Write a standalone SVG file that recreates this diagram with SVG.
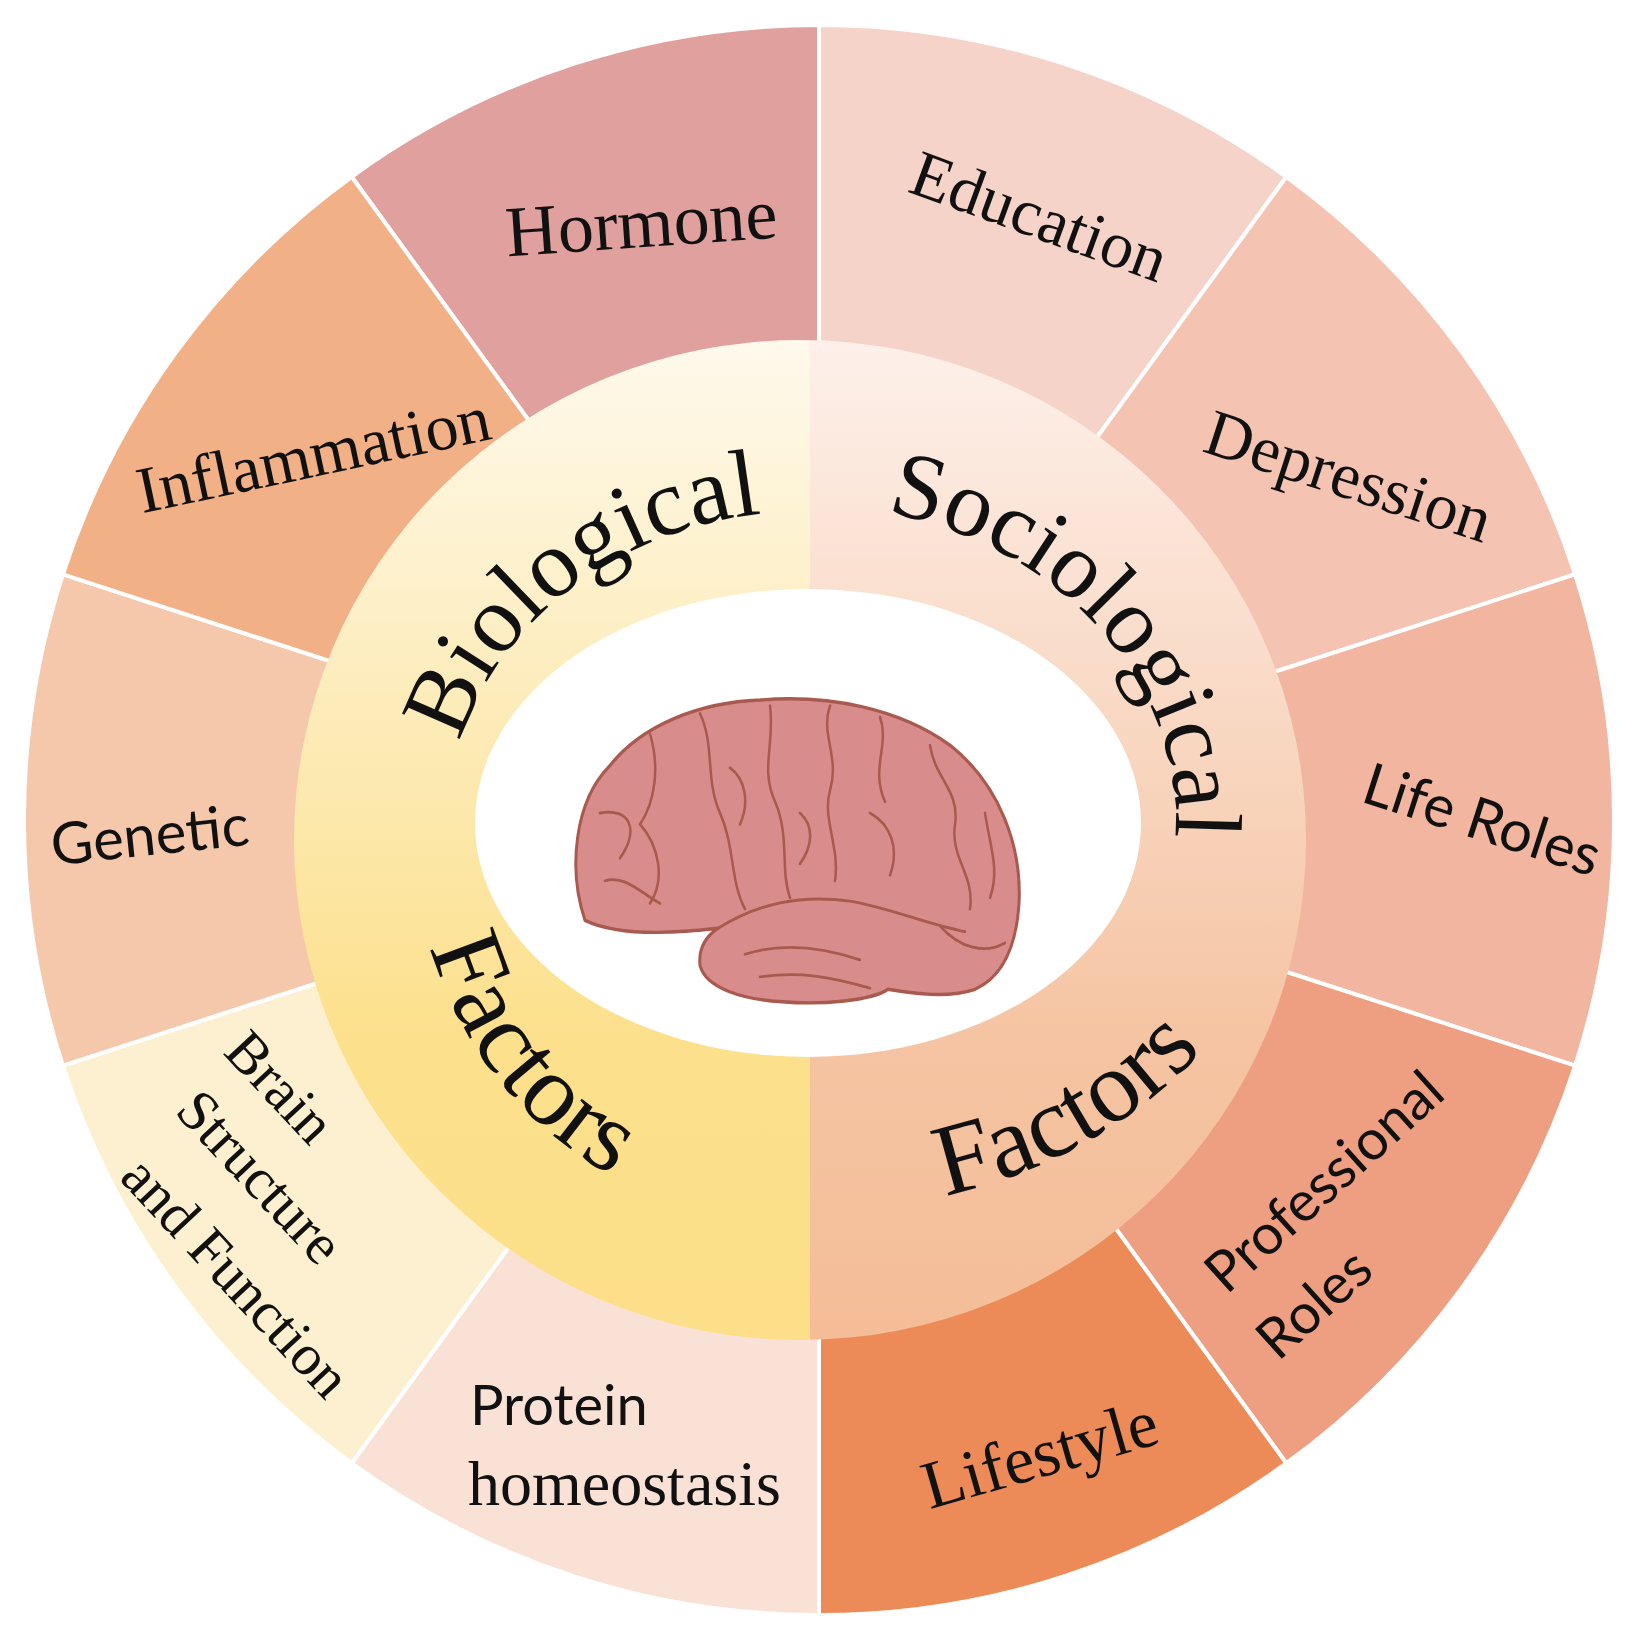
<svg xmlns="http://www.w3.org/2000/svg" width="1638" height="1643" viewBox="0 0 1638 1643">
<style>
.seg{stroke:#ffffff;stroke-width:4}
.serif{font-family:"Liberation Serif","Times New Roman",serif;fill:#111}
.sans{font-family:Lato,"Open Sans","Liberation Sans",sans-serif;fill:#111}
.big{font-family:"Liberation Serif","Times New Roman",serif;fill:#111}
.brain{fill:#D98C8C;stroke:#A85A4E;stroke-width:3;stroke-linejoin:round}
.sulc{fill:none;stroke:#A85A4E;stroke-width:2.5;stroke-linecap:round}
</style>
<defs>
<linearGradient id="gBio" gradientUnits="userSpaceOnUse" x1="0" y1="340" x2="0" y2="1340">
<stop offset="0" stop-color="#FEF9EC"/><stop offset="0.7" stop-color="#FCE08C"/><stop offset="1" stop-color="#FCDF88"/>
</linearGradient>
<linearGradient id="gSoc" gradientUnits="userSpaceOnUse" x1="0" y1="340" x2="0" y2="1340">
<stop offset="0" stop-color="#FDF0EA"/><stop offset="0.7" stop-color="#F5C4A2"/><stop offset="1" stop-color="#F4BD98"/>
</linearGradient>
<clipPath id="ring"><ellipse cx="800" cy="840" rx="506" ry="500"/></clipPath>
<path id="pTop" d="M 448 823 A 360 312 0 0 1 1168 823"/>
<path id="pTop2" d="M 440 823 A 368 318 0 0 1 1176 823 A 368 318 0 0 1 1100 1010"/>
<path id="pBio" d="M 415 840 A 385 385 0 0 0 1185 840"/>
<path id="pSoc" d="M 337 705 A 502 502 0 0 0 1341 705"/>
</defs>

<g id="outer-segments">
<path id="seg-hormone" class="seg" fill="#E0A09E" d="M819 820 L351.7 176.8 A795 795 0 0 1 819 25 Z"/>
<path id="seg-education" class="seg" fill="#F6D3C8" d="M819 820 L819 25 A795 795 0 0 1 1286.3 176.8 Z"/>
<path id="seg-depression" class="seg" fill="#F4C3B2" d="M819 820 L1286.3 176.8 A795 795 0 0 1 1575.1 574.3 Z"/>
<path id="seg-liferoles" class="seg" fill="#F2B59F" d="M819 820 L1575.1 574.3 A795 795 0 0 1 1575.1 1065.7 Z"/>
<path id="seg-professional" class="seg" fill="#EF9F81" d="M819 820 L1575.1 1065.7 A795 795 0 0 1 1286.3 1463.2 Z"/>
<path id="seg-lifestyle" class="seg" fill="#EC8B57" d="M819 820 L1286.3 1463.2 A795 795 0 0 1 819 1615 Z"/>
<path id="seg-protein" class="seg" fill="#F9E2D5" d="M819 820 L819 1615 A795 795 0 0 1 351.7 1463.2 Z"/>
<path id="seg-brainstruct" class="seg" fill="#FDF0D0" d="M819 820 L351.7 1463.2 A795 795 0 0 1 62.9 1065.7 Z"/>
<path id="seg-genetic" class="seg" fill="#F5C8AB" d="M819 820 L62.9 1065.7 A795 795 0 0 1 62.9 574.3 Z"/>
<path id="seg-inflammation" class="seg" fill="#F2B086" d="M819 820 L62.9 574.3 A795 795 0 0 1 351.7 176.8 Z"/>
</g>

<g id="inner-ring">
<rect x="280" y="330" width="530" height="1020" fill="url(#gBio)" clip-path="url(#ring)"/>
<rect x="810" y="330" width="510" height="1020" fill="url(#gSoc)" clip-path="url(#ring)"/>
<ellipse cx="808" cy="823" rx="333" ry="234" fill="#ffffff"/>
</g>

<g id="brain" transform="translate(0,-91) scale(1,1.13)">
<path class="brain" d="M585 895 C568 850 574 790 610 758 C642 722 700 702 760 700 C830 695 900 708 950 740 C1000 775 1022 830 1019 880 C1016 922 1000 946 975 956 C948 964 915 960 888 956 C872 966 822 970 782 967 C742 965 706 955 700 935 C698 918 708 908 718 902 C680 906 620 910 585 895 Z"/>
<path class="sulc" d="M718 902 C758 880 800 872 850 878 C890 884 925 898 965 905"/>
<path class="sulc" d="M745 925 C780 915 820 918 860 930"/>
<path class="sulc" d="M760 945 C800 940 830 945 870 955"/>
<path class="sulc" d="M650 730 C660 760 655 790 640 810 M640 810 C660 830 665 860 650 880"/>
<path class="sulc" d="M700 712 C715 740 705 770 720 800 C735 830 730 860 745 885"/>
<path class="sulc" d="M600 800 C630 795 640 815 620 840 M605 860 C625 855 640 870 660 880"/>
<path class="sulc" d="M770 705 C775 740 760 760 775 790 C790 820 780 850 790 875"/>
<path class="sulc" d="M830 705 C820 730 840 750 830 780 C822 805 840 830 835 860"/>
<path class="sulc" d="M880 715 C890 740 870 760 885 790 M870 800 C890 810 900 830 890 855"/>
<path class="sulc" d="M930 740 C935 770 960 780 955 810 C950 840 975 855 970 885"/>
<path class="sulc" d="M985 800 C990 830 1000 850 990 875 M940 900 C960 920 985 925 1005 915"/>
<path class="sulc" d="M730 760 C745 770 750 790 740 810 M800 800 C815 812 812 830 800 845"/>
</g>

<g id="ring-labels">
<text class="big" font-size="96"><textPath href="#pTop" startOffset="82">Biological</textPath></text>
<text class="big" font-size="95"><textPath href="#pTop2" startOffset="618">Sociological</textPath></text>
<text class="big" font-size="102"><textPath href="#pBio" startOffset="108">Factors</textPath></text>
<text class="big" font-size="102"><textPath href="#pSoc" startOffset="895">Factors</textPath></text>
</g>

<g id="segment-labels">
<text class="serif" font-size="72" text-anchor="middle" transform="translate(643,247) rotate(-4)">Hormone</text>
<text class="serif" font-size="66" text-anchor="middle" transform="translate(1032,237) rotate(20)">Education</text>
<text class="serif" font-size="66" text-anchor="middle" transform="translate(1342,497) rotate(18)">Depression</text>
<text class="sans" font-size="58" text-anchor="middle" transform="translate(1476,839) rotate(18)">Life Roles</text>
<text class="sans" font-size="56" text-anchor="middle" transform="translate(1337,1196) rotate(-42)">Professional</text>
<text class="sans" font-size="56" text-anchor="middle" transform="translate(1327,1318) rotate(-42)">Roles</text>
<text class="serif" font-size="68" text-anchor="middle" transform="translate(1046,1476) rotate(-16)">Lifestyle</text>
<text class="sans" font-size="56" x="470" y="1425">Protein</text>
<text class="serif" font-size="64" x="468" y="1505">homeostasis</text>
<text class="serif" font-size="58" text-anchor="middle" transform="translate(266,1100) rotate(47)">Brain</text>
<text class="serif" font-size="58" text-anchor="middle" transform="translate(246,1190) rotate(47)">Structure</text>
<text class="serif" font-size="58" text-anchor="middle" transform="translate(222,1290) rotate(47)">and Function</text>
<text class="sans" font-size="58" text-anchor="middle" transform="translate(152,855) rotate(-6)">Genetic</text>
<text class="serif" font-size="66" text-anchor="middle" transform="translate(318,476) rotate(-12)">Inflammation</text>
</g>
</svg>
